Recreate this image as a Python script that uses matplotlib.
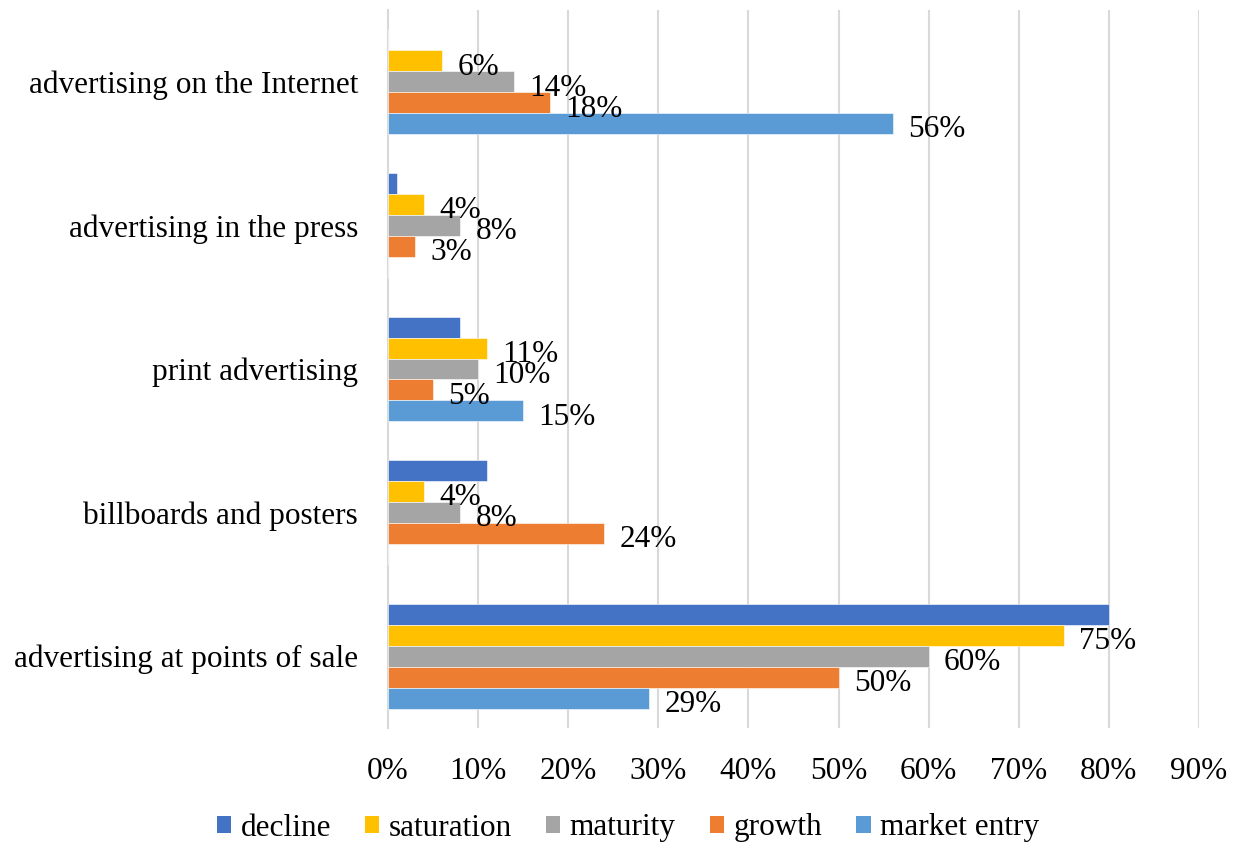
import matplotlib.pyplot as plt
import numpy as np
from matplotlib.patches import Patch

plt.rcParams['font.family'] = ['Liberation Serif', 'DejaVu Serif']

# categories listed bottom to top
categories = [
    "advertising at points of sale",
    "billboards and posters",
    "print advertising",
    "advertising in the press",
    "advertising on the Internet",
]
series = ["decline", "saturation", "maturity", "growth", "market entry"]
colors = ["#4472C4", "#FFC000", "#A5A5A5", "#ED7D31", "#5B9BD5"]

decline = [80, 11, 8, 1, 0]
saturation = [75, 4, 11, 4, 6]
maturity = [60, 8, 10, 8, 14]
growth = [50, 24, 5, 3, 18]
market_entry = [29, 0, 15, 0, 56]
values = [decline, saturation, maturity, growth, market_entry]
labelled = [False, True, True, True, True]

FS = 22.5

fig = plt.figure(figsize=(12.34, 8.43), dpi=100)
ax = fig.add_axes([388 / 1234, 1 - 728 / 843, (1199 - 388) / 1234, 718 / 843])

y = np.arange(len(categories))
h = 0.146
offsets = [2 * h, h, 0, -h, -2 * h]

for vals, name, col, off, lab in zip(values, series, colors, offsets, labelled):
    bars = ax.barh(y + off, vals, height=h, color=col, label=name,
                   edgecolor="white", linewidth=0.4, zorder=3)
    if lab:
        for b, v in zip(bars, vals):
            if v == 0:
                continue
            ax.annotate(f"{v}%", (v, b.get_y() + b.get_height() / 2),
                        xytext=(11, -4.5), textcoords="offset points",
                        va="center", ha="left", fontsize=FS, zorder=4)

ax.set_xlim(0, 90)
ax.set_ylim(-0.5, len(categories) - 0.5)
ax.set_xticks(range(0, 91, 10))
ax.set_xticklabels([f"{t}%" for t in range(0, 91, 10)], fontsize=FS)
ax.set_yticks(y)
ax.set_yticklabels(categories, fontsize=FS)
ax.tick_params(length=0)
ax.tick_params(axis="x", pad=21)
ax.tick_params(axis="y", pad=21.5)
ax.grid(axis="x", color="#D9D9D9", linewidth=1.5, zorder=0)
for s in ["top", "right", "bottom"]:
    ax.spines[s].set_visible(False)
ax.spines["left"].set_color("#D9D9D9")
ax.spines["left"].set_linewidth(1.5)

handles = [Patch(facecolor=c, label=n) for c, n in zip(colors, series)]
fig.legend(handles=handles, loc="center", bbox_to_anchor=(628 / 1234, 1 - 828 / 843),
           ncol=5, frameon=False, fontsize=FS, handlelength=0.45, handleheight=0.45,
           handletextpad=0.3, columnspacing=1.1)

fig.savefig("out.png", dpi=100)
